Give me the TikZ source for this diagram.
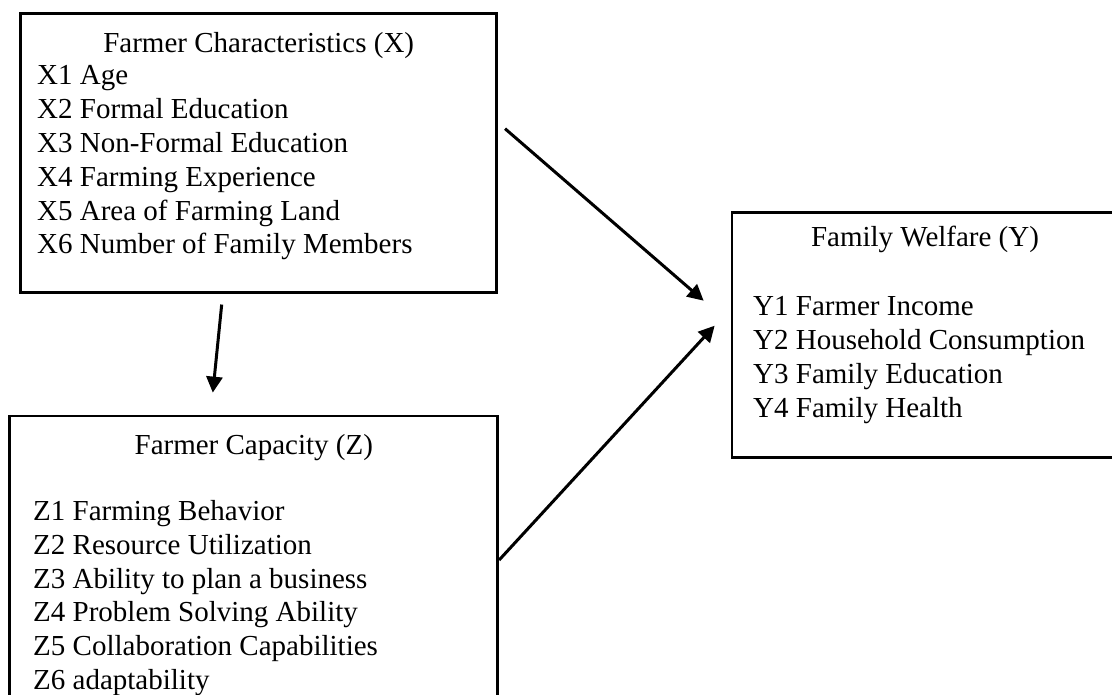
\documentclass[tikz,border=0pt]{standalone}
\usepackage{fontspec}
\setmainfont{Liberation Serif}
\usetikzlibrary{arrows.meta}

\tikzset{
  box/.style={draw, rectangle, line width=2.7pt, inner sep=0pt},
  title/.style={anchor=base, inner sep=0pt, font=\fontsize{29}{34}\selectfont},
  item/.style={anchor=base west, inner sep=0pt, font=\fontsize{29}{34}\selectfont}
}

\begin{document}
\begin{tikzpicture}[x=1pt,y=-1pt,>={Triangle[length=16pt,width=16pt]}]
\useasboundingbox (0,0) rectangle (1112,695);
\clip (0,0) rectangle (1112,695);

% the three boxes
\node[box, minimum width=476pt, minimum height=279pt] (xbox) at (258.7,152.7) {};
\node[box, minimum width=386pt, minimum height=245pt] (ybox) at (925,334.7) {};
\node[box, minimum width=488pt, minimum height=304pt] (zbox) at (253.8,568) {};

% the titles
\node[title] (xtitle) at (258.7,52.7) {Farmer Characteristics (X)};
\node[title] (ytitle) at (925,246.7) {Family Welfare (Y)};
\node[title] (ztitle) at (253.8,454) {Farmer Capacity (Z)};

% the lists
\foreach \t [count=\i] in {X1 Age, X2 Formal Education, X3 Non-Formal Education,
    X4 Farming Experience, X5 Area of Farming Land, X6 Number of Family Members}
  \node[item] (x\i) at (37,{51.2+33.8*\i}) {\t};
\foreach \t [count=\i] in {Y1 Farmer Income, Y2 Household Consumption,
    Y3 Family Education, Y4 Family Health}
  \node[item] (y\i) at (753,{282+33.9*\i}) {\t};
\foreach \t [count=\i] in {Z1 Farming Behavior, Z2 Resource Utilization,
    Z3 Ability to plan a business, Z4 Problem Solving Ability,
    Z5 Collaboration Capabilities, Z6 adaptability}
  \node[item] (z\i) at (33,{487+33.7*\i}) {\t};

% the arrows
\draw[->, line width=3pt] ([shift={(7,-24)}]xbox.east) -- ([shift={(-27,-34)}]ybox.west);
\draw[->, line width=3pt] ([shift={(0,-8)}]zbox.east) -- ([shift={(-16,-9)}]ybox.west);
\draw[->, line width=3pt] ([shift={(-37,11)}]xbox.south) -- ([shift={(-41,-22)}]zbox.north);
\end{tikzpicture}
\end{document}
